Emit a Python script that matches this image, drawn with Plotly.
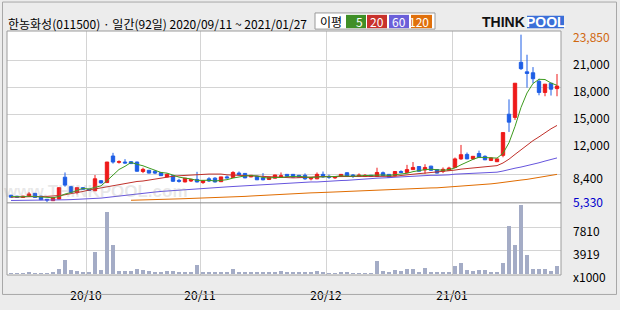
import plotly.graph_objects as go

# ---------------- data ----------------
title_text = "한농화성(011500) · 일간(92일) 2020/09/11 ~ 2021/01/27"

opens = [6090, 5985, 5850, 5950, 6300, 5985, 5640, 5490, 5670, 8085,
         7035, 6405, 6930, 6750, 6585, 7700, 7490, 10430, 9735, 9765,
         9800, 9765, 8715, 8850, 8745, 8610, 8120, 8260, 7740, 7560,
         7665, 7840, 7490, 7905, 7980, 7590, 8120, 8055, 8540, 8505,
         8120, 8190, 8010, 7840, 7980, 8085, 8400, 8400, 8295, 8295,
         7905, 7905, 8400, 8190, 8010, 8160, 8580, 8330, 8160, 8160,
         8295, 8160, 8580, 8400, 8260, 8715, 8610, 8925, 9270, 8890,
         9310, 8925, 8745, 8850, 9165, 10110, 10605, 10110, 10710, 10395,
         9945, 9800, 10500, 15050, 14700, 20790, 19740, 19635, 18690, 17460,
         18480, 17880]
highs = [6140, 6020, 6020, 6440, 6330, 6040, 5670, 5880, 6930, 8610,
         7140, 6930, 6980, 6825, 8330, 7770, 9765, 10780, 9945, 10080,
         9870, 9800, 9135, 8850, 8890, 8640, 8505, 8295, 7905, 7980,
         7875, 8680, 7740, 8085, 8085, 8120, 8265, 8750, 8715, 8505,
         8330, 8220, 8540, 8120, 8350, 8610, 8430, 8430, 8330, 8505,
         8085, 8610, 8715, 8370, 8190, 8430, 8610, 8430, 8505, 8430,
         8330, 9135, 8715, 8430, 8750, 8850, 9450, 9765, 9310, 9520,
         9345, 8955, 9165, 9240, 10260, 11655, 10815, 10425, 11025, 10500,
         10260, 10150, 13020, 16695, 18480, 23850, 21630, 20265, 18975, 18375,
         18480, 19500]
lows = [5830, 5850, 5830, 5930, 5830, 5565, 5330, 5460, 5620, 7035,
        6350, 6195, 6720, 6560, 6560, 7400, 7455, 9590, 9590, 9590,
        9555, 8715, 8540, 8505, 8430, 8220, 8085, 7560, 7490, 7530,
        7560, 7510, 7350, 7560, 7510, 7560, 7980, 8030, 8260, 7980,
        8085, 7770, 7740, 7770, 7950, 8055, 8160, 8055, 8055, 7800,
        7740, 7875, 8010, 7905, 7905, 8140, 8140, 8010, 8140, 8140,
        8140, 8140, 8220, 8055, 8190, 8505, 8580, 8890, 8715, 8475,
        8820, 8505, 8540, 8820, 9135, 10010, 10080, 10080, 10220, 9975,
        9870, 9765, 10290, 13090, 14420, 19950, 17990, 18450, 17145, 17040,
        17115, 17040]
closes = [5880, 5880, 5985, 6230, 5850, 5600, 5565, 5810, 6930, 7210,
          6405, 6930, 6750, 6615, 7910, 7455, 9765, 9765, 9800, 9660,
          9590, 8745, 8955, 8540, 8540, 8260, 8400, 7635, 7635, 7980,
          7840, 7560, 7700, 7665, 7560, 8120, 8010, 8610, 8370, 8010,
          8295, 7800, 7800, 8085, 8330, 8260, 8190, 8085, 8085, 7905,
          8050, 8400, 8120, 8085, 8160, 8400, 8160, 8160, 8330, 8295,
          8160, 8610, 8260, 8085, 8715, 8610, 8925, 9165, 8745, 9165,
          8850, 8540, 8955, 9100, 10110, 10575, 10110, 10395, 10260, 10010,
          10220, 10110, 13020, 14175, 18480, 20090, 19560, 18975, 17460, 18375,
          17820, 18165]
volumes = [150, 120, 130, 160, 140, 150, 130, 170, 800, 2390,
           640, 480, 270, 160, 3660, 640, 10340, 4770, 480, 480,
           480, 800, 640, 430, 320, 320, 480, 480, 320, 320,
           320, 1430, 160, 320, 160, 320, 160, 800, 320, 320,
           160, 320, 320, 320, 160, 480, 160, 160, 160, 300,
           160, 430, 270, 110, 110, 270, 270, 110, 110, 110,
           110, 2180, 430, 270, 590, 430, 900, 900, 270, 1070,
           270, 270, 270, 270, 1380, 1860, 590, 430, 590, 590,
           270, 270, 1860, 8060, 4880, 11560, 3130, 900, 900, 900,
           430, 1380]

ma5 = [5950, 5930, 5920, 5990, 5965, 5909, 5846, 5811, 5951, 6223,
       6384, 6657, 6845, 6782, 6922, 7132, 7699, 8302, 8939, 9289,
       9716, 9512, 9350, 9098, 8874, 8608, 8539, 8275, 8094, 7982,
       7898, 7730, 7743, 7749, 7665, 7721, 7811, 7993, 8134, 8224,
       8259, 8217, 8055, 7998, 8062, 8055, 8133, 8190, 8190, 8105,
       8063, 8105, 8112, 8112, 8163, 8233, 8185, 8193, 8242, 8269,
       8221, 8311, 8331, 8282, 8366, 8456, 8519, 8700, 8832, 8922,
       8970, 8893, 8851, 8922, 9111, 9456, 9770, 10058, 10290, 10270,
       10199, 10199, 10724, 11900, 13700, 15800, 17400, 18450, 18913, 18890,
       18500, 18250]
ma20 = [5880, 5880, 5901, 5922, 5933, 5954, 5964, 5985, 6059, 6143,
        6248, 6374, 6510, 6668, 6794, 6930, 7035, 7161, 7277, 7403,
        7529, 7613, 7665, 7770, 7928, 8054, 8138, 8190, 8243, 8295,
        8348, 8400, 8432, 8432, 8432, 8432, 8348, 8295, 8264, 8264,
        8243, 8211, 8190, 8138, 8085, 8033, 8012, 8012, 8033, 8085,
        8138, 8159, 8159, 8150, 8150, 8159, 8159, 8159, 8165, 8165,
        8159, 8170, 8170, 8175, 8190, 8274, 8369, 8432, 8484, 8537,
        8589, 8642, 8715, 8799, 8873, 8978, 9051, 9135, 9209, 9261,
        9324, 9366, 9660, 10080, 10605, 11130, 11655, 12128, 12548, 13020,
        13440, 13808]
ma60 = [5513, 5513, 5513, 5534, 5534, 5544, 5565, 5565, 5565, 5586,
        5607, 5628, 5649, 5670, 5723, 5775, 5849, 5933, 6017, 6090,
        6164, 6237, 6300, 6374, 6447, 6510, 6563, 6615, 6668, 6720,
        6762, 6804, 6846, 6888, 6930, 6972, 7014, 7056, 7098, 7140,
        7182, 7214, 7245, 7277, 7298, 7319, 7403, 7455, 7455, 7508,
        7560, 7560, 7613, 7665, 7665, 7718, 7739, 7770, 7844, 7875,
        7928, 7980, 7980, 8033, 8085, 8127, 8159, 8190, 8243, 8274,
        8295, 8295, 8295, 8348, 8421, 8453, 8474, 8474, 8505, 8537,
        8579, 8642, 8768, 8946, 9083, 9209, 9345, 9503, 9681, 9870,
        10049, 10217]
ma120 = [None] * 20 + [
        5534, 5544, 5565, 5565, 5586, 5618, 5639, 5670, 5691, 5712,
        5733, 5744, 5754, 5775, 5807, 5849, 5880, 5912, 5933, 5964,
        6006, 6048, 6069, 6090, 6132, 6164, 6248, 6300, 6300, 6321,
        6353, 6374, 6384, 6437, 6479, 6479, 6510, 6542, 6584, 6584,
        6636, 6668, 6689, 6699, 6752, 6794, 6804, 6846, 6878, 6899,
        6899, 6909, 6951, 7035, 7088, 7119, 7140, 7224, 7287, 7329,
        7350, 7424, 7529, 7592, 7665, 7770, 7844, 7949, 8064, 8148,
        8295, 8400]

ma_names = ["5", "20", "60", "120"]
month_first_idx = [13, 32, 53, 74]
month_labels = ["20/10", "20/11", "20/12", "21/01"]
price_ticks = [5330, 8400, 12000, 15000, 18000, 21000]
price_tick_text = ["5,330", "8,400", "12,000", "15,000", "18,000", "21,000"]
price_high_label = 23850
price_high_text = "23,850"
vol_ticks = [3919, 7810]
vol_tick_text = ["3919", "7810"]
vol_unit = "x1000"

# ---------------- styles / geometry ----------------
W, H = 620, 310
L, R, T, B = 7, 561, 31, 288
SPLIT = 212
FONT = "Noto Sans CJK KR"
UP, DOWN = "#ee1a1a", "#1e5ee6"
VOL_COLOR = "#a4acc6"
GRID = "#d4d4d4"
MA_COLORS = ["#3d9a1e", "#c0302a", "#6655dd", "#e06c00"]
MA_BOX = ["#3f8f26", "#c8322c", "#6b5fd9", "#e0700c"]
LBL_SHIFT = -3   # text baseline correction for right-side labels

def px(x):
    return (x - L) / (R - L)

def py(y):
    return (B - y) / (B - T)

vol_frac = (B - SPLIT) / (B - T)
days = list(range(len(closes)))

fig = go.Figure()
fig.add_trace(go.Bar(x=days, y=volumes, yaxis="y2", width=0.66,
                     marker=dict(color=VOL_COLOR, line=dict(width=0)),
                     hoverinfo="skip", showlegend=False))
fig.add_trace(go.Candlestick(
    x=days, open=opens, high=highs, low=lows, close=closes,
    increasing=dict(line=dict(color=UP, width=1), fillcolor=UP),
    decreasing=dict(line=dict(color=DOWN, width=1), fillcolor=DOWN),
    whiskerwidth=0, yaxis="y", hoverinfo="skip", showlegend=False))
for series, col in zip([ma120, ma60, ma20, ma5], MA_COLORS[::-1]):
    fig.add_trace(go.Scatter(x=days, y=series, mode="lines", yaxis="y",
                             line=dict(color=col, width=1),
                             hoverinfo="skip", showlegend=False))

annotations = []
# title
annotations.append(dict(x=px(6), y=py(22), xref="paper", yref="paper",
                        text=title_text, showarrow=False, xanchor="left",
                        yanchor="middle", yshift=-1,
                        font=dict(family=FONT, size=12, color="#000")))
# right price labels
for v, t in zip(price_ticks, price_tick_text):
    is_min = v == price_ticks[0]
    col = "#0000cc" if is_min else "#000000"
    annotations.append(dict(x=px(571), y=v, xref="paper", yref="y", text=t,
                            showarrow=False, xanchor="left", yanchor="middle",
                            yshift=(4 if is_min else 0) + LBL_SHIFT,
                            font=dict(family=FONT, size=12, color=col)))
annotations.append(dict(x=px(571), y=price_high_label, xref="paper", yref="y",
                        text=price_high_text, showarrow=False, xanchor="left",
                        yanchor="middle", yshift=-2,
                        font=dict(family=FONT, size=12, color="#d06810")))
for v, t in zip(vol_ticks, vol_tick_text):
    annotations.append(dict(x=px(571), y=v, xref="paper", yref="y2", text=t,
                            showarrow=False, xanchor="left", yanchor="middle",
                            yshift=LBL_SHIFT,
                            font=dict(family=FONT, size=12, color="#000")))
annotations.append(dict(x=px(571), y=py(286), xref="paper", yref="paper", text=vol_unit,
                        showarrow=False, xanchor="left", yanchor="middle",
                        yshift=LBL_SHIFT,
                        font=dict(family=FONT, size=12, color="#000")))

# MA legend box
shapes = []
shapes.append(dict(type="rect", xref="paper", yref="paper", x0=px(315), x1=px(435),
                   y0=py(29), y1=py(12), fillcolor="#ffffff",
                   line=dict(color="#9a9a9a", width=1)))
annotations.append(dict(x=px(331), y=py(21), xref="paper", yref="paper", text="이평",
                        showarrow=False, xanchor="center", yanchor="middle",
                        font=dict(family=FONT, size=12, color="#000")))
box_x = [(346, 366), (367, 387), (389, 409), (411, 432)]
for (x0, x1), name, col in zip(box_x, ma_names, MA_BOX):
    shapes.append(dict(type="rect", xref="paper", yref="paper", x0=px(x0), x1=px(x1),
                       y0=py(28), y1=py(14), fillcolor=col, line=dict(width=0)))
    annotations.append(dict(x=px(x1 - 1), y=py(21), xref="paper", yref="paper", text=name,
                            showarrow=False, xanchor="right", yanchor="middle",
                            font=dict(family=FONT, size=12, color="#ffffff")))

# logo
annotations.append(dict(x=px(527), y=py(22), xref="paper", yref="paper",
                        text="<b>THINK</b>", showarrow=False, xanchor="right", yanchor="middle",
                        font=dict(family="Liberation Sans", size=14, color="#111")))
shapes.append(dict(type="rect", xref="paper", yref="paper", x0=px(527), x1=px(564),
                   y0=py(28), y1=py(15), fillcolor="#3a6fd8", line=dict(width=0)))
annotations.append(dict(x=px(545.5), y=py(22), xref="paper", yref="paper",
                        text="<b>POOL</b>", showarrow=False, xanchor="center", yanchor="middle",
                        font=dict(family="Liberation Sans", size=14, color="#ffffff")))
# watermark
annotations.append(dict(x=px(95), y=py(200), xref="paper", yref="paper",
                        text="<b>www.THINKPOOL.com</b>", showarrow=False,
                        xanchor="center", yanchor="middle",
                        font=dict(family="Liberation Sans", size=17, color="rgba(150,150,150,0.22)")))

# frames
shapes.append(dict(type="rect", xref="paper", yref="paper", x0=0, x1=1, y0=0, y1=1,
                   line=dict(color="#9c9c9c", width=1)))
shapes.append(dict(type="line", xref="paper", yref="paper", x0=0, x1=1,
                   y0=vol_frac, y1=vol_frac, line=dict(color="#8c8c8c", width=1)))
shapes.append(dict(type="rect", xref="paper", yref="paper", x0=px(2.5), x1=px(616.5),
                   y0=py(308.5), y1=py(0.5), line=dict(color="#a8a8a8", width=1)))

fig.update_layout(
    width=W, height=H,
    margin=dict(l=L, r=W - R, t=T, b=H - B, pad=0),
    paper_bgcolor="#ececec", plot_bgcolor="#ffffff",
    showlegend=False, boxgap=0.2, bargap=0,
    hovermode=False,
    xaxis=dict(range=[-0.667, len(closes) - 0.333], anchor="y2",
               tickvals=[i - 0.5 for i in month_first_idx], ticktext=month_labels,
               showgrid=True, gridcolor=GRID, gridwidth=1, zeroline=False,
               showline=False, ticks="outside", ticklen=10, tickcolor="rgba(0,0,0,0)",
               tickfont=dict(family=FONT, size=12, color="#000"),
               rangeslider=dict(visible=False), fixedrange=True),
    yaxis=dict(domain=[vol_frac, 1], range=[5250, 24255], anchor="x",
               tickvals=price_ticks, showticklabels=False, showgrid=True,
               gridcolor=GRID, zeroline=False, ticks="", fixedrange=True),
    yaxis2=dict(domain=[0, vol_frac], range=[-207, 11877], anchor="x",
                tickvals=vol_ticks, showticklabels=False, showgrid=True,
                gridcolor=GRID, zeroline=False, ticks="", fixedrange=True),
    annotations=annotations, shapes=shapes,
)

fig.write_html("out.html")
